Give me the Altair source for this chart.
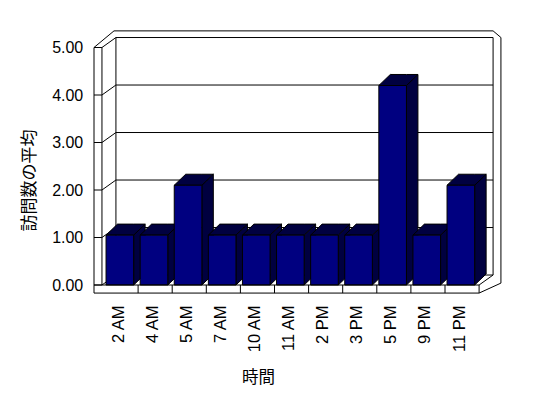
import json
import altair as alt
import pandas as pd

# ---------------- data ----------------
categories = ["2 AM", "4 AM", "5 AM", "7 AM", "10 AM", "11 AM",
              "2 PM", "3 PM", "5 PM", "9 PM", "11 PM"]
values = [1.05, 1.05, 2.1, 1.05, 1.05, 1.05, 1.05, 1.05, 4.2, 1.05, 2.1]
y_ticks = [0, 1, 2, 3, 4, 5]
x_title = "時間"
y_title = "訪問数の平均"

# ---------------- geometry (scale units) ----------------
SX, X0PX = 34.1, 104.0     # px per category, px of category 0
SY, Y0PX = 47.5, 285.0     # px per value unit, px of value 0
XMIN, XMAX = -0.3, 11.7
YMIN, YMAX = -0.2, 5.4
W = (XMAX - XMIN) * SX
H = (YMAX - YMIN) * SY
PAD_L = X0PX + XMIN * SX
PAD_T = Y0PX - YMAX * SY

N = len(categories)
BL, BR = 0.06, 0.87          # bar front face within a category
BDX, BDY = 0.336, 0.232      # bar depth
U0, U1 = -0.06, float(N)     # inner floor front left/right
UL = -0.293                  # outer left wall edge
WDX, WDY = 0.41, 0.21        # wall depth
VT = 5.35                    # outer top of back wall
VB = -0.17                   # bottom of floor strip
UR = 11.64                   # outer right edge
TOP = float(y_ticks[-1])

xs = alt.Scale(domain=[XMIN, XMAX], nice=False, zero=False)
ys = alt.Scale(domain=[YMIN, YMAX], nice=False, zero=False)

label_expr = json.dumps(categories) + "[floor(datum.value)]"

X_AXIS = alt.Axis(
    values=[k + 0.5 for k in range(N)], labelExpr=label_expr,
    labelAngle=270, labelAlign="right", labelBaseline="middle",
    labelPadding=10.5, labelOffset=-3, labelFont="Liberation Sans",
    labelFontSize=16.5, labelColor="black", domain=False, ticks=False,
    tickSize=0, grid=False, titleFont="Noto Sans CJK JP",
    titleFontSize=16.5, titleFontWeight="normal", titleColor="black",
    titleX=258 - PAD_L, titleY=377 - (PAD_T + H), titleAlign="center",
    titleBaseline="middle", titleAngle=0)
Y_AXIS = alt.Axis(
    values=y_ticks, format=".2f", labelPadding=11,
    labelFont="Liberation Sans", labelFontSize=16, labelColor="black",
    domain=False, ticks=False, tickSize=0, grid=False,
    titleFont="Noto Sans CJK JP", titleFontSize=17,
    titleFontWeight="normal", titleColor="black", titleAngle=270,
    titleX=29 - PAD_L, titleY=180 - PAD_T, titleAlign="center",
    titleBaseline="middle")

def XE():
    return alt.X("u:Q", scale=xs, title=x_title, axis=X_AXIS)

def YE():
    return alt.Y("v:Q", scale=ys, title=y_title, axis=Y_AXIS)

def seg(rows, a, b, c, d):
    rows.append({"u": a, "v": b, "u2": c, "v2": d})

back = []
seg(back, UL, VB, UL, TOP)
seg(back, U0, 0, U0, TOP)
seg(back, UL, TOP, U0, TOP)
seg(back, UL, TOP, 0.293, VT)
seg(back, U0, TOP, U0 + WDX, TOP + WDY)
seg(back, U0 + WDX, WDY, U0 + WDX, TOP + WDY)
seg(back, U0 + WDX, TOP + WDY, U1 + WDX, TOP + WDY)
seg(back, 0.293, VT, U1 + WDX, VT)
seg(back, U1 + WDX, VT, UR, TOP + WDY)
seg(back, U1 + WDX, WDY, U1 + WDX, TOP + WDY)
seg(back, UR, TOP + WDY, UR, 0.04)
for t in y_ticks[:-1]:
    if t > 0:
        seg(back, U0 + WDX, t + WDY, U1 + WDX, t + WDY)
    seg(back, UL, t, U0, t)
    seg(back, U0, t, U0 + WDX, t + WDY)
seg(back, U0 + WDX, WDY, U1 + WDX, WDY)
seg(back, U1, 0, U1 + WDX, WDY)
back_df = pd.DataFrame(back)

front = []
seg(front, UL, 0, U1, 0)
seg(front, UL, VB, U1, VB)
seg(front, U1, VB, U1, 0)
seg(front, U1, VB, UR, 0.04)
for k in range(1, N):
    seg(front, k, VB, k, 0)
front_df = pd.DataFrame(front)

fr, tp, sd = [], [], []
for k, (c, val) in enumerate(zip(categories, values)):
    fr.append({"u": k + BL, "u2": k + BR, "v": 0.0, "v2": val, "cat": c})
    pts = [(k + BL, val, val), (k + BL + BDX, val, val + BDY),
           (k + BR, val, val + BDY), (k + BR + BDX, val + BDY, val + BDY)]
    for u, a, b in pts:
        tp.append({"bar": k, "u": u, "v": a, "v2": b})
    sd.append({"bar": k, "u": k + BR, "v": 0.0, "v2": val})
    sd.append({"bar": k, "u": k + BR + BDX, "v": BDY, "v2": val + BDY})
fr_df, tp_df, sd_df = pd.DataFrame(fr), pd.DataFrame(tp), pd.DataFrame(sd)

def rules(df):
    return alt.Chart(df).mark_rule(color="black", strokeWidth=1).encode(
        x=XE(), x2="u2:Q", y=YE(), y2="v2:Q")

def faces(df):
    return alt.Chart(df).mark_area(
        fill="#000040", stroke="black", strokeWidth=1, opacity=1,
        interpolate="linear", orient="vertical").encode(
        x=XE(), y=YE(), y2="v2:Q", detail="bar:N")

fronts = alt.Chart(fr_df).mark_rect(
    fill="#000080", stroke="black", strokeWidth=1).encode(
    x=XE(), x2="u2:Q", y=YE(), y2="v2:Q")

chart = alt.layer(
    rules(back_df), faces(sd_df), faces(tp_df), fronts, rules(front_df)
).properties(
    width=W, height=H,
    autosize=alt.AutoSizeParams(type="none"),
    padding={"left": PAD_L, "top": PAD_T,
             "right": 548 - PAD_L - W, "bottom": 398 - PAD_T - H},
    background="white",
).configure_view(stroke=None)

chart.save("out.html", embed_options={"renderer": "svg", "actions": False})
